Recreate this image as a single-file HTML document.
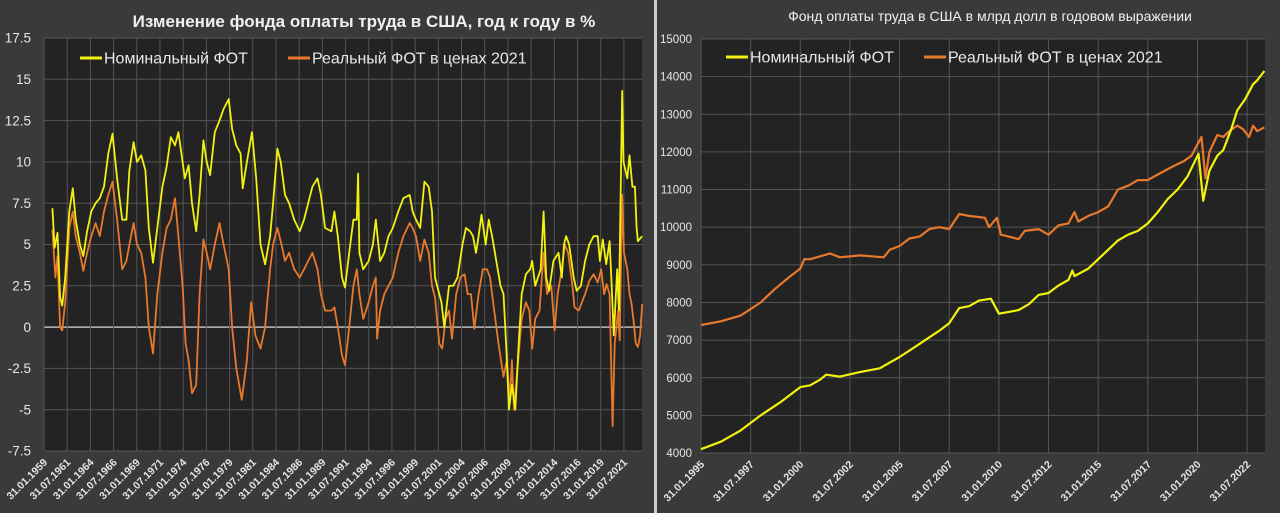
<!DOCTYPE html>
<html><head><meta charset="utf-8"><style>
html,body{margin:0;padding:0;background:#3a3a3a;}
svg{display:block;font-family:"Liberation Sans","DejaVu Sans",sans-serif;}
</style></head><body>
<svg id="root" width="1280" height="513" viewBox="0 0 1280 513" xmlns="http://www.w3.org/2000/svg">
<rect x="0" y="0" width="1280" height="513" fill="#3a3a3a"/>
<rect x="654" y="0" width="3" height="513" fill="#cfcfcf"/>
<g id="left"></g>
<g id="right"></g>
</svg>
<script>
// ---------- LEFT CHART DATA ----------
const leftTicks = [17.5,15,12.5,10,7.5,5,2.5,0,-2.5,-5,-7.5];
const leftTickLabels = ["17.5","15","12.5","10","7.5","5","2.5","0","-2.5","-5","-7.5"];
const leftDateLabels = ["31.01.1959","31.07.1961","31.01.1964","31.07.1966","31.01.1969","31.07.1971","31.01.1974","31.07.1976","31.01.1979","31.07.1981","31.01.1984","31.07.1986","31.01.1989","31.07.1991","31.01.1994","31.07.1996","31.01.1999","31.07.2001","31.01.2004","31.07.2006","31.01.2009","31.07.2011","31.01.2014","31.07.2016","31.01.2019","31.07.2021"];
const leftDateYears = [1959,1961.5,1964,1966.5,1969,1971.5,1974,1976.5,1979,1981.5,1984,1986.5,1989,1991.5,1994,1996.5,1999,2001.5,2004,2006.5,2009,2011.5,2014,2016.5,2019,2021.5];
const nomYears = [1959.91,1960.14,1960.46,1960.73,1960.96,1961.28,1961.73,1962.10,1962.42,1962.87,1963.24,1963.65,1964.10,1964.56,1965.01,1965.47,1965.93,1966.38,1966.88,1967.43,1967.88,1968.20,1968.66,1969.02,1969.48,1969.93,1970.30,1970.75,1971.21,1971.76,1972.21,1972.67,1973.12,1973.49,1973.94,1974.17,1974.58,1974.95,1975.40,1975.77,1976.18,1976.54,1976.90,1977.41,1977.91,1978.36,1978.91,1979.27,1979.73,1980.19,1980.41,1980.87,1981.42,1981.87,1982.33,1982.83,1983.37,1983.69,1984.15,1984.51,1984.97,1985.42,1985.97,1986.56,1987.02,1987.47,1987.93,1988.48,1988.84,1989.30,1989.98,1990.30,1990.66,1991.12,1991.44,1991.89,1992.35,1992.71,1992.85,1992.99,1993.40,1993.99,1994.45,1994.76,1995.22,1995.68,1996.13,1996.59,1997.18,1997.73,1998.41,1998.73,1999.09,1999.55,2000.00,2000.46,2000.82,2001.14,2001.83,2002.14,2002.65,2003.10,2003.56,2004.10,2004.47,2004.92,2005.24,2005.56,2005.84,2006.15,2006.61,2006.93,2007.29,2007.75,2008.20,2008.52,2008.80,2009.12,2009.43,2009.80,2010.16,2010.48,2010.94,2011.39,2011.62,2011.94,2012.53,2012.85,2013.13,2013.44,2013.90,2014.45,2014.81,2015.04,2015.27,2015.59,2016.09,2016.41,2016.86,2017.32,2017.77,2018.23,2018.68,2018.91,2019.23,2019.59,2019.96,2020.14,2020.41,2020.78,2020.96,2021.32,2021.46,2021.87,2022.10,2022.42,2022.69,2022.87,2023.01,2023.47];
const nomValues = [7.2,4.8,5.7,1.8,1.3,3,7,8.4,6.5,5,4.3,5.8,7,7.5,7.8,8.5,10.5,11.7,9,6.5,6.5,9.5,11.2,10,10.4,9.5,6,3.9,6,8.5,9.7,11.5,11,11.8,10,9,9.8,7.5,5.8,8,11.3,10,9.2,11.8,12.5,13.2,13.8,12,11,10.5,8.4,10,11.8,9,5,3.8,5.5,7.5,10.8,10,8,7.5,6.5,5.8,6.5,7.5,8.5,9,8,6,5.8,7,5.5,3,2.4,4.5,6.5,6.5,9.3,4.5,3.5,4,5,6.5,4,4.5,5.5,6,7,7.8,8,7,6.5,6,8.8,8.5,7,3,1.5,0,2.5,2.5,3,5,6,5.8,5.5,4.5,5.5,6.8,5,6.5,5.5,4,2.5,2,-1,-5,-3.5,-5,-1,2,3.2,3.5,4,2.5,3.5,7,3,2.2,4,4.5,3,5,5.5,5,3,2.2,2.5,4,5,5.5,5.5,4,5.3,3.8,5.2,3,-0.5,3.5,1,14.3,10,9,10.4,8.5,8.5,6,5.2,5.5];
const realYears = [1959.91,1960.23,1960.46,1960.73,1960.96,1961.28,1961.73,1962.10,1962.42,1962.87,1963.24,1963.65,1964.10,1964.56,1965.01,1965.47,1965.93,1966.38,1966.88,1967.43,1967.88,1968.20,1968.66,1969.02,1969.48,1969.93,1970.30,1970.75,1971.21,1971.76,1972.21,1972.67,1973.12,1973.49,1973.94,1974.26,1974.58,1974.95,1975.40,1975.77,1976.18,1976.54,1976.90,1977.41,1977.91,1978.36,1978.91,1979.27,1979.73,1980.32,1980.87,1981.32,1981.78,1982.33,1982.83,1983.37,1983.69,1984.15,1984.60,1984.97,1985.42,1985.97,1986.56,1987.02,1987.47,1987.93,1988.48,1988.84,1989.30,1989.98,1990.30,1990.66,1991.12,1991.44,1991.89,1992.35,1992.71,1992.99,1993.40,1993.99,1994.45,1994.76,1994.90,1995.22,1995.68,1996.13,1996.59,1997.18,1997.73,1998.41,1998.73,1999.09,1999.55,2000.00,2000.46,2000.82,2001.14,2001.60,2001.92,2002.28,2002.65,2002.97,2003.42,2003.88,2004.33,2004.65,2005.02,2005.38,2005.84,2006.29,2006.75,2007.07,2007.52,2007.98,2008.52,2008.89,2009.21,2009.43,2009.66,2010.11,2010.48,2010.94,2011.30,2011.62,2011.94,2012.40,2012.85,2013.22,2013.67,2014.03,2014.35,2014.81,2015.13,2015.49,2015.95,2016.18,2016.63,2017.32,2017.77,2018.23,2018.68,2019.05,2019.37,2019.64,2019.96,2020.28,2020.51,2020.87,2021.05,2021.32,2021.51,2021.87,2022.10,2022.33,2022.56,2022.78,2023.01,2023.24,2023.47];
const realValues = [5.9,3,4.3,0,-0.2,1.5,6,7,5.5,4.5,3.4,4.5,5.5,6.3,5.5,7,8,8.8,6.5,3.5,4,5,6.3,5,4.5,3,0,-1.6,2,4.5,6,6.5,7.8,5.5,2.5,-1,-2,-4,-3.5,2,5.3,4.5,3.5,5,6.3,5,3.5,0,-2.5,-4.4,-2,1.5,-0.5,-1.3,0,3.5,5,6,5,4,4.5,3.5,3,3.5,4,4.5,3.5,2,1,1,1.2,0,-1.7,-2.3,0,2.5,3.5,2,0.5,1.5,2.5,3,-0.7,1,2,2.5,3,4.5,5.5,6.3,6,5.5,4,5.3,4.5,2.5,1.8,-1,-1.3,0.5,1,-0.7,2,3,3.2,2,2,-0.1,2,3.5,3.5,3,1,-1,-3,-2,-4.5,-2,-5,-2,0.5,1.5,1,-1.3,0.5,1,4.5,2,2.5,-0.2,2,3.5,5,4.5,2.5,1.2,1,2,2.8,3.2,2.7,3.5,2,2.6,2,-6,-1,1,-0.8,8,4.5,3.5,2,1.4,0.3,-1,-1.2,-0.5,1.4];

// ---------- RIGHT CHART DATA ----------
const rightTicks = [15000,14000,13000,12000,11000,10000,9000,8000,7000,6000,5000,4000];
const rightTickLabels = ["15000","14000","13000","12000","11000","10000","9000","8000","7000","6000","5000","4000"];
const rightDateLabels = ["31.01.1995","31.07.1997","31.01.2000","31.07.2002","31.01.2005","31.07.2007","31.01.2010","31.07.2012","31.01.2015","31.07.2017","31.01.2020","31.07.2022"];
const rightDateYears = [1995,1997.5,2000,2002.5,2005,2007.5,2010,2012.5,2015,2017.5,2020,2022.5];
const rNomYears = [1995,1996,1997,1998,1999,2000,2000.5,2001,2001.3,2002,2003,2004,2005,2006,2007,2007.5,2008,2008.5,2009,2009.6,2010.0,2010.5,2011,2011.5,2012,2012.5,2013,2013.5,2013.7,2013.8,2014.5,2015,2015.5,2016,2016.5,2017,2017.5,2018,2018.5,2019,2019.5,2020.05,2020.29,2020.6,2021,2021.3,2021.7,2022,2022.4,2022.8,2023.0,2023.37];
const rNomValues = [4100,4300,4600,5000,5350,5750,5800,5950,6080,6030,6150,6250,6550,6900,7250,7450,7850,7900,8050,8100,7700,7750,7800,7950,8200,8250,8450,8600,8850,8700,8900,9150,9400,9650,9800,9900,10100,10400,10750,11000,11350,11950,10700,11500,11900,12050,12600,13100,13400,13800,13900,14150];
const rRealYears = [1995,1996,1997,1998,1998.7,1999.5,2000.0,2000.2,2000.5,2001.5,2002,2003,2004.2,2004.5,2005,2005.5,2006,2006.5,2007,2007.5,2008,2008.5,2009.3,2009.5,2009.9,2010.1,2010.5,2011,2011.3,2012,2012.5,2013,2013.5,2013.8,2014,2014.5,2015,2015.5,2016,2016.5,2017,2017.5,2018,2018.7,2019.3,2019.7,2020,2020.2,2020.4,2020.6,2021,2021.3,2021.6,2022,2022.3,2022.6,2022.8,2023,2023.37];
const rRealValues = [7400,7500,7650,8000,8350,8700,8900,9150,9150,9300,9200,9250,9200,9400,9500,9700,9750,9950,10000,9950,10350,10300,10250,10000,10250,9800,9750,9680,9900,9950,9800,10050,10100,10400,10150,10300,10400,10550,11000,11100,11250,11250,11400,11600,11750,11900,12200,12400,11300,12000,12450,12400,12550,12700,12600,12400,12700,12550,12650];

const NS = "http://www.w3.org/2000/svg";
function mk(parent, tag, attrs, text){
  const el = document.createElementNS(NS, tag);
  for (const k in attrs) el.setAttribute(k, attrs[k]);
  if (text !== undefined) el.textContent = text;
  parent.appendChild(el);
  return el;
}

function drawChart(g, cfg){
  const {L,R,T,B,xMin,xMax,yMin,yMax} = cfg;
  const xs = v => L + (v - xMin) / (xMax - xMin) * (R - L);
  const ys = v => B - (v - yMin) / (yMax - yMin) * (B - T);
  const plot = mk(g, "rect", {x:L, y:T, width:R-L, height:B-T, fill:"#232323"});
  
  
  cfg.ticks.forEach((t,i)=>{
    const gl = mk(g, "line", {x1:L, x2:R, y1:ys(t), y2:ys(t), stroke: (t===0 && cfg.zero) ? "#bdbdbd" : "#555", "stroke-width": (t===0 && cfg.zero) ? 1.5 : 1});
    
    
    const tl = mk(g, "text", {x:cfg.yLabelX, y:ys(t)+cfg.yFont*0.35, "text-anchor":"end", fill:"#e6e6e6", "font-size":cfg.yFont}, cfg.tickLabels[i]);
    
    
  });
  cfg.dateYears.forEach((d,i)=>{
    const x = xs(d);
    const vl = mk(g, "line", {x1:x, x2:x, y1:T, y2:B, stroke:"#555", "stroke-width":1});
    
    
    const tx = mk(g, "text", {x:x+4, y:B+12, "text-anchor":"end", fill:"#e6e6e6", "font-size":cfg.xFont, "font-weight":"bold", transform:`rotate(-45 ${x+4} ${B+12})`}, cfg.dateLabels[i]);
    
    
  });
  cfg.series.forEach(s=>{
    const pts = s.x.map((v,i)=> xs(v).toFixed(1)+","+ys(s.y[i]).toFixed(1)).join(" ");
    const pl = mk(g, "polyline", {points:pts, fill:"none", stroke:s.color, "stroke-width":s.w, "stroke-linejoin":"round"});
    
    
  });
  const title = mk(g, "text", {x:cfg.titleX, y:cfg.titleY, "text-anchor":"middle", fill:"#f0f0f0", "font-size":cfg.titleFont, "font-weight":cfg.titleWeight}, cfg.title);
  
  
  cfg.legend.forEach(l=>{
    const ll = mk(g, "line", {x1:l.x, x2:l.x+22, y1:cfg.legY, y2:cfg.legY, stroke:l.color, "stroke-width":3});
    
    
    const lt = mk(g, "text", {x:l.x+24, y:cfg.legY+5.5, fill:"#e8e8e8", "font-size":cfg.legFont}, l.text);
    
    
  });
}

drawChart(document.getElementById("left"), {
  L:44, R:642, T:38, B:451, xMin:1959, xMax:2023.45, yMin:-7.5, yMax:17.5,
  ticks:leftTicks, tickLabels:leftTickLabels, zero:true, yLabelX:31, yFont:13.5, xFont:10.5,
  dateYears:leftDateYears, dateLabels:leftDateLabels,
  series:[{name:"real-payroll-line", x:realYears, y:realValues, color:"#e8792c", w:1.8},
          {name:"nominal-payroll-line", x:nomYears, y:nomValues, color:"#f2f20f", w:1.8}],
  title:"Изменение фонда оплаты труда в США, год к году в %", titleX:364, titleY:27, titleFont:17, titleWeight:"bold",
  legY:58, legFont:16,
  legend:[{x:80, color:"#f2f20f", text:"Номинальный ФОТ"},{x:288, color:"#e8792c", text:"Реальный ФОТ в ценах 2021"}]
});
drawChart(document.getElementById("right"), {
  L:701, R:1265, T:39, B:453, xMin:1995, xMax:2023.4, yMin:4000, yMax:15000,
  ticks:rightTicks, tickLabels:rightTickLabels, zero:false, yLabelX:692, yFont:11.5, xFont:10.5,
  dateYears:rightDateYears, dateLabels:rightDateLabels,
  series:[{name:"real-payroll-line", x:rRealYears, y:rRealValues, color:"#e8792c", w:2.2},
          {name:"nominal-payroll-line", x:rNomYears, y:rNomValues, color:"#f2f20f", w:2.2}],
  title:"Фонд оплаты труда в США в млрд долл в годовом выражении", titleX:990, titleY:21, titleFont:14, titleWeight:"normal",
  legY:57, legFont:16,
  legend:[{x:726, color:"#f2f20f", text:"Номинальный ФОТ"},{x:924, color:"#e8792c", text:"Реальный ФОТ в ценах 2021"}]
});
</script>
</body></html>
